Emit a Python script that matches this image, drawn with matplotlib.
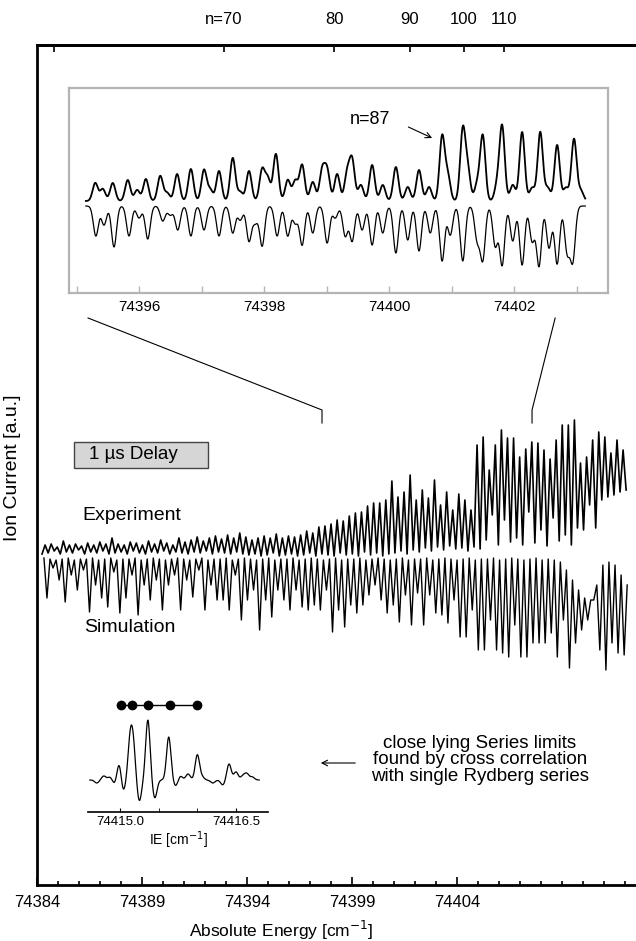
import numpy as np
import matplotlib.pyplot as plt
from matplotlib.patches import Rectangle
from matplotlib.ticker import FixedLocator, MultipleLocator

plt.rcParams['font.family'] = ['Liberation Sans', 'DejaVu Sans']

# ---- main spectrum, 1 us delay (a.u.: experiment up, simulation mirrored down)
exp_range = (74384.24, 74412.05)
exp_valleys = [6, 7, 9, 6, 8, 7, 10, 6, 8, 7, 9, 6, 7, 8, 6, 9, 7, 6, 8, 7,
               9, 6, 8, 7, 6, 8, 7, 9, 6, 8, 7, 6, 8, 6,
               5, 6, 4, 5, 7, 4, 5, 6, 4, 5, 7, 4, 6, 5, 4, 7, 5, 6, 4, 8, 5, 7, 4, 6,
               7, 9, 6, 10, 8, 12, 9, 13, 10, 14, 11, 12, 9, 13, 11,
               20, 45, 15, 40, 18, 22, 15, 48, 17, 30, 14, 42, 19, 25, 15, 32,
               30, 55, 32, 60, 63, 65, 68, 70]
exp_peaks = [15, 16, 13, 19, 15, 16, 14, 17, 15, 18,
             16, 22, 16, 15, 18, 17, 15, 19, 16, 20,
             17, 15, 22, 18, 20, 23, 19, 22, 24, 21,
             25, 22, 27, 23, 20, 22, 24, 22, 26, 22,
             24, 23, 25, 29, 27, 33, 34, 36, 40, 39,
             44, 47, 48, 54, 57, 57, 60, 79, 63, 68,
             85, 60, 70, 62, 80, 55, 68, 50, 66, 60,
             50, 115, 123, 90, 115, 130, 122, 122, 103, 111,
             118, 117, 110, 101, 120, 135, 135, 140, 97, 103,
             120, 128, 123, 107, 120, 110]

sim_range = (74384.33, 74412.10)
sim_tops = [2, 1, 0, 1, 2, 0, 1, 1, 2, 0,
            1, 2, 0, 1, 1, 2, 0, 1, 2, 1,
            0, 1, 2, 1, 0, 1, 2, 0, 1, 1,
            2, 0, 1, 2, 1, 0, 1, 2, 0, 1,
            1, 2, 0, 1, 2, 1, 0, 1, 2, 0,
            1, 1, 2, 0, 1, 2, 1, 0, 1, 2,
            0, 1, 1, 2, 0, 1, 2, 1, 0, 1,
            2, 0, 1, 1, 2, 0, 1, 2, 1, 0,
            1, 2, 0, 1, 0, -2, -10, -20, -30, -38,
            -40, -25, -5, -2, -5, -15, -25]
sim_dips = [-38, -8, -20, -42, -15, -30, -10, -52, -25, -38,
            -47, -12, -53, -38, -15, -55, -25, -40, -20, -50,
            -25, -15, -50, -20, -37, -10, -50, -25, -40, -40,
            -50, -15, -60, -40, -30, -70, -40, -57, -30, -40,
            -50, -30, -47, -50, -45, -50, -30, -72, -50, -67,
            -45, -53, -45, -35, -25, -40, -53, -45, -62, -35,
            -65, -33, -65, -35, -53, -55, -63, -40, -77, -77,
            -50, -90, -90, -60, -90, -93, -97, -65, -97, -97,
            -83, -83, -83, -73, -97, -60, -108, -83, -70, -60,
            -40, -90, -110, -83, -93, -95]

# ---- expanded region 74395 - 74403
zoom_range = (74395.15, 74403.14)
zoom_exp_pos = [74395.30, 74395.42, 74395.58, 74395.82, 74395.97, 74396.11, 74396.34,
                74396.45, 74396.61, 74396.83, 74397.04, 74397.14, 74397.28, 74397.50,
                74397.62, 74397.76, 74397.97, 74398.06, 74398.19, 74398.38, 74398.50,
                74398.61, 74398.78, 74398.93, 74399.01, 74399.17, 74399.33, 74399.41,
                74399.55, 74399.73, 74399.90, 74400.11, 74400.30, 74400.48, 74400.64,
                74400.85, 74400.94, 74401.18, 74401.26, 74401.41, 74401.50, 74401.73,
                74401.81, 74401.98, 74402.13, 74402.29, 74402.42, 74402.54, 74402.69,
                74402.83, 74402.96, 74403.07]
zoom_exp_amp = [18, 12, 18, 21, 11, 22, 25, 8, 27, 32, 31, 11, 30, 43, 9, 30, 31, 22,
                47, 21, 20, 36, 19, 30, 30, 27, 27, 40, 16, 36, 16, 34, 14, 31, 14,
                64, 25, 70, 30, 16, 65, 15, 74, 16, 69, 13, 69, 13, 56, 13, 62, 10]
zoom_sim_pos = [74395.31, 74395.44, 74395.60, 74395.84, 74396.00, 74396.14, 74396.38,
                74396.50, 74396.62, 74396.83, 74397.04, 74397.28, 74397.50, 74397.62,
                74397.76, 74397.86, 74397.97, 74398.21, 74398.38, 74398.50, 74398.61,
                74398.78, 74399.01, 74399.14, 74399.30, 74399.41, 74399.57, 74399.73,
                74399.90, 74400.11, 74400.30, 74400.48, 74400.66, 74400.85, 74400.98,
                74401.18, 74401.41, 74401.50, 74401.70, 74401.81, 74401.98, 74402.13,
                74402.29, 74402.40, 74402.56, 74402.69, 74402.85, 74402.94]
zoom_sim_amp = [-30, -19, -41, -30, -12, -33, -15, -9, -24, -30, -24, -30, -27, -14,
                -35, -16, -40, -30, -30, -17, -39, -27, -37, -12, -30, -35, -24, -39,
                -27, -47, -34, -45, -27, -55, -29, -55, -33, -53, -40, -59, -35, -59,
                -35, -60, -42, -58, -45, -54]

# ---- cross correlation with single Rydberg series
cc_range = (74414.61, 74416.80)
cc_pos = [74414.70, 74414.79, 74414.87, 74414.93, 74414.99, 74415.04, 74415.13, 74415.17,
          74415.25, 74415.36, 74415.45, 74415.63, 74415.72, 74415.78, 74415.88, 74416.00,
          74416.06, 74416.20, 74416.33, 74416.41, 74416.50, 74416.59, 74416.64, 74416.71]
cc_amp = [-3, 4, 3, -4, 17, -12, 37, 34, -21, 60, -18, 43, -6, 4, 6, 25, 3, -3, -5, 16,
          8, 4, 6, 3]
ie_limits = [74415.01, 74415.16, 74415.36, 74415.65, 74416.00]

# ---- axis annotations
main_ticks = [74384, 74389, 74394, 74399, 74404]
zoom_ticks = [74396, 74398, 74400, 74402]
cc_ticks = [74415.0, 74416.5]
IE = 74415.3
RYD = 109737.3
n_top = [60, 70, 80, 90, 100, 110]
n_labels = ['', 'n=70', '80', '90', '100', '110']


def zigzag(lo, hi, a, b):
    y = np.empty(len(a) + len(b))
    y[0::2] = a
    y[1::2] = b
    return np.linspace(lo, hi, len(y)), y


def lines(x, pos, amp, w):
    return sum(a * np.exp(-0.5 * ((x - p) / w) ** 2) for p, a in zip(pos, amp))


W, H = 636, 941
fig = plt.figure(figsize=(W / 100, H / 100), dpi=100)

ax = fig.add_axes([37 / W, 1 - 885 / H, 1 - 37 / W, 840 / H])
x, y = zigzag(*exp_range, exp_valleys, exp_peaks)
ax.plot(x, y, color='black', lw=1.2)
x, y = zigzag(*sim_range, sim_tops, sim_dips)
ax.plot(x, y, color='black', lw=1.0)
ax.set_xlim(74384, 74412.52)
ax.set_ylim(-325, 515)
ax.set_yticks([])
ax.spines['right'].set_visible(False)
for s in ['left', 'bottom', 'top']:
    ax.spines[s].set_linewidth(2)
ax.xaxis.set_major_locator(FixedLocator(main_ticks))
ax.xaxis.set_minor_locator(MultipleLocator(1))
ax.xaxis.set_major_formatter(lambda v, p: f'{v:.0f}')
ax.tick_params(axis='x', which='both', direction='in', width=1.2, labelsize=12, pad=7)
ax.tick_params(axis='x', which='major', length=6)
ax.tick_params(axis='x', which='minor', length=3)

top = ax.secondary_xaxis('top')
top.set_xticks([IE - RYD / n ** 2 for n in n_top], labels=n_labels)
top.tick_params(direction='in', length=5, width=1.2, labelsize=12, pad=13)
top.spines['top'].set_linewidth(2)

# brackets pointing from expanded view into the spectrum
ax.plot([74386.43, 74397.57, 74397.57], [242, 150, 137], color='black', lw=0.8)
ax.plot([74408.67, 74407.57, 74407.57], [242, 150, 137], color='black', lw=0.8)

fig.text(281 / W, 1 - 930 / H, 'Absolute Energy [cm$^{-1}$]', ha='center', va='center',
         fontsize=12.5)
fig.text(13 / W, 1 - 468 / H, 'Ion Current [a.u.]', rotation=90, ha='center',
         va='center', fontsize=14)
fig.text(132 / W, 1 - 515 / H, 'Experiment', ha='center', va='center', fontsize=14)
fig.text(130 / W, 1 - 627 / H, 'Simulation', ha='center', va='center', fontsize=14)
fig.patches.append(Rectangle((74 / W, 1 - 468 / H), 134 / W, 26 / H, transform=fig.transFigure,
                             facecolor='#d6d6d6', edgecolor='#444444', lw=1))
fig.text(89 / W, 1 - 455 / H, '1 µs Delay', ha='left', va='center', fontsize=13.5)

# expanded view
axi = fig.add_axes([69 / W, 1 - 293 / H, 539 / W, 205 / H])
xs = np.linspace(*zoom_range, 1500)
axi.plot(xs, 5 + lines(xs, zoom_exp_pos, zoom_exp_amp, 0.042), color='black', lw=1.3)
axi.plot(xs, lines(xs, zoom_sim_pos, zoom_sim_amp, 0.04), color='black', lw=0.9)
axi.set_xlim(74394.88, 74403.504)
axi.set_ylim(-87, 118)
axi.set_yticks([])
for s in axi.spines.values():
    s.set_color('#b4b4b4')
    s.set_linewidth(1.6)
axi.xaxis.set_major_locator(FixedLocator(zoom_ticks))
axi.xaxis.set_minor_locator(MultipleLocator(1))
axi.xaxis.set_major_formatter(lambda v, p: f'{v:.0f}')
axi.tick_params(axis='x', which='both', direction='in', color='#b4b4b4', width=1,
                length=5, labelsize=11, pad=5)
axi.text(74399.70, 86, 'n=87', fontsize=13, ha='center', va='center')
axi.annotate('', xy=(74400.69, 68), xytext=(74400.31, 79),
             arrowprops=dict(arrowstyle='->', lw=0.8, color='black',
                             shrinkA=0, shrinkB=0))

# cross correlation inset
axs = fig.add_axes([88 / W, 1 - 812 / H, 180 / W, 117 / H])
xc = np.linspace(*cc_range, 800)
axs.plot(xc, lines(xc, cc_pos, cc_amp, 0.028), color='black', lw=0.9)
axs.plot(ie_limits, [75] * len(ie_limits), '-o', color='black', lw=1, ms=6)
axs.set_xlim(74414.586, 74416.914)
axs.set_ylim(-32, 85)
axs.set_yticks([])
for s in ['left', 'right', 'top']:
    axs.spines[s].set_visible(False)
axs.spines['bottom'].set_linewidth(1.2)
axs.set_xticks(cc_ticks, labels=['74415.0', '74416.5'])
axs.xaxis.set_minor_locator(MultipleLocator(0.5))
axs.tick_params(axis='x', which='both', direction='in', length=3, labelsize=9.5, pad=3)
axs.set_xlabel('IE [cm$^{-1}$]', fontsize=10, labelpad=1)

fig.text(480 / W, 1 - 760 / H,
         'close lying Series limits\nfound by cross correlation\nwith single Rydberg series',
         ha='center', va='center', fontsize=13.5, linespacing=0.95)
ax.annotate('', xy=(318 / W, 1 - 763 / H), xytext=(358 / W, 1 - 763 / H),
            xycoords='figure fraction', textcoords='figure fraction',
            arrowprops=dict(arrowstyle='->', lw=0.8, color='black'))

fig.savefig('out.png', dpi=100)
